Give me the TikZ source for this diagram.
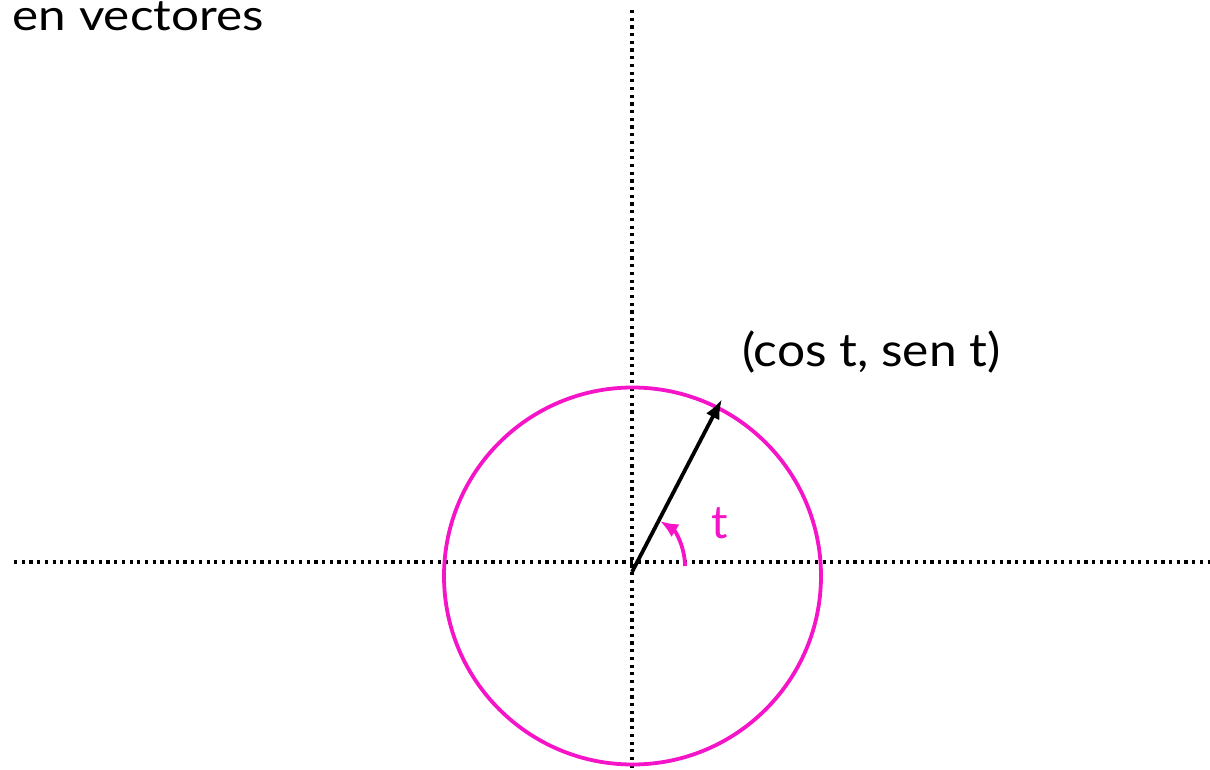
\documentclass[tikz,border=0pt]{standalone}
\usepackage{fontspec}
\setmainfont{Lato}
\newfontfamily\widefont[FakeStretch=1.15]{Lato}
\newfontfamily\widefontb[FakeStretch=1.08]{Lato}
\usetikzlibrary{arrows.meta}
\definecolor{mag}{RGB}{245,20,200}
\tikzset{
  axis/.style={line width=3.2pt, dash pattern=on 3.2pt off 4.5pt},
  vec/.style={line width=3.8pt, -{Latex[length=20pt,width=15pt]}},
  ang/.style={mag, line width=3.8pt, -{Latex[length=18pt,width=15pt]}},
  lab/.style={inner sep=0pt}
}
\begin{document}
\begin{tikzpicture}[x=1pt,y=-1pt]
\useasboundingbox (0,0) rectangle (1210,770);
\node[lab, anchor=base east, text height=26pt, text depth=0pt, font=\widefont\fontsize{43}{47}\selectfont] (title) at (264,31) {en vectores};
\coordinate (top) at (632,10);
\coordinate (bot) at (632,770);
\coordinate (left) at (14,562);
\coordinate (right) at (1210,562);
\draw[axis] (top) -- (bot);
\draw[axis] (left) -- (right);
\node[circle, draw=mag, line width=3.8pt, minimum size=377pt, inner sep=0pt] (C) at (632.5,576) {};
\coordinate (O) at (632,572);
\coordinate (P) at (722,399);
\draw[vec] (O) -- (P);
\coordinate (A0) at (685,566);
\draw[ang] (A0) arc[start angle=0, end angle=-58, radius=53];
\node[lab, anchor=base, text=mag, font=\fontsize{46}{50}\selectfont] (t) at (720,538) {t};
\node[lab, anchor=base west, font=\widefontb\fontsize{46}{50}\selectfont] (pt) at (742,366) {(cos t, sen t)};
\end{tikzpicture}
\end{document}
